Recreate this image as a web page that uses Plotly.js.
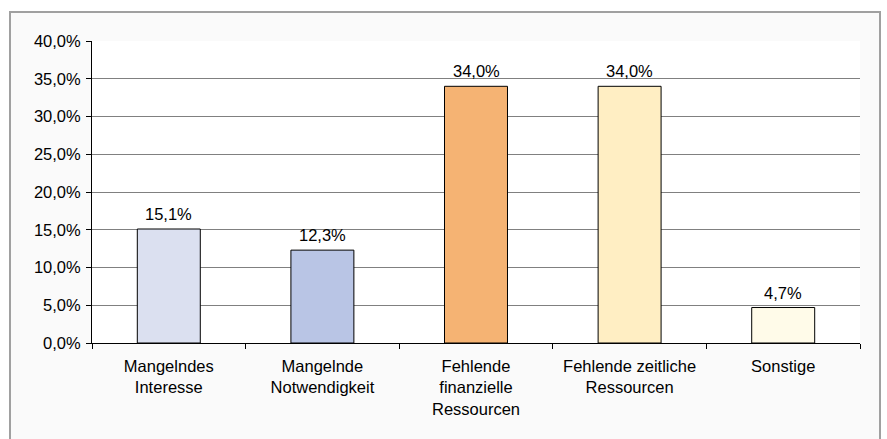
<!DOCTYPE html>
<html><head><meta charset="utf-8">
<script src="https://cdn.plot.ly/plotly-3.0.1.min.js"></script>
<style>
html,body{margin:0;padding:0;background:#fff;}
#frame{position:absolute;left:9px;top:11px;width:872px;height:440px;border:2px solid #a0a0a0;background:#fafafa;box-sizing:border-box;}
#chart{position:absolute;left:0;top:0;width:887px;height:439px;}
</style></head>
<body>
<div id="frame"></div>
<div id="chart"></div>
<script>
const categories = ["Mangelndes<br>Interesse","Mangelnde<br>Notwendigkeit","Fehlende<br>finanzielle<br>Ressourcen","Fehlende zeitliche<br>Ressourcen","Sonstige"];
const values = [15.1, 12.3, 34.0, 34.0, 4.7];
const colors = ["#dbe0f0","#b9c5e5","#f5b373","#ffeec3","#fffbe9"];
const yTicks = [0,5,10,15,20,25,30,35,40];
const yTickText = ["0,0%","5,0%","10,0%","15,0%","20,0%","25,0%","30,0%","35,0%","40,0%"];

const fontFam = 'Liberation Sans, Arial, sans-serif';
const fs = 16.5;
const annotations = categories.map((c,i)=>({
  x:c, y:values[i], xref:'x', yref:'y', text:values[i].toFixed(1).replace('.',',')+'%',
  showarrow:false, yanchor:'bottom', yshift:4,
  font:{family:fontFam, size:fs, color:'#000'}
}));

Plotly.newPlot('chart', [{
  type:'bar', x:categories, y:values,
  marker:{color:colors, line:{color:'#000', width:1}},
  width:0.41,
  hoverinfo:'none'
}], {
  width:887, height:439,
  margin:{l:92, r:27, t:41, b:96},
  paper_bgcolor:'rgba(0,0,0,0)', plot_bgcolor:'#fff',
  font:{family:fontFam, size:fs, color:'#000'},
  showlegend:false,
  annotations:annotations,
  xaxis:{type:'category', tickson:'boundaries', ticks:'outside', ticklen:5, tickcolor:'#000',
    showline:true, linecolor:'#000', linewidth:1, showgrid:false, tickfont:{size:fs},
    ticklabelstandoff:8},
  yaxis:{range:[0,40], tickvals:yTicks, ticktext:yTickText, ticks:'outside', ticklen:5,
    tickcolor:'#000', showline:true, linecolor:'#000', linewidth:1, gridcolor:'#808080', gridwidth:1,
    zeroline:false, tickfont:{size:fs}, ticklabelstandoff:2}
}, {staticPlot:true});
</script>
</body></html>
